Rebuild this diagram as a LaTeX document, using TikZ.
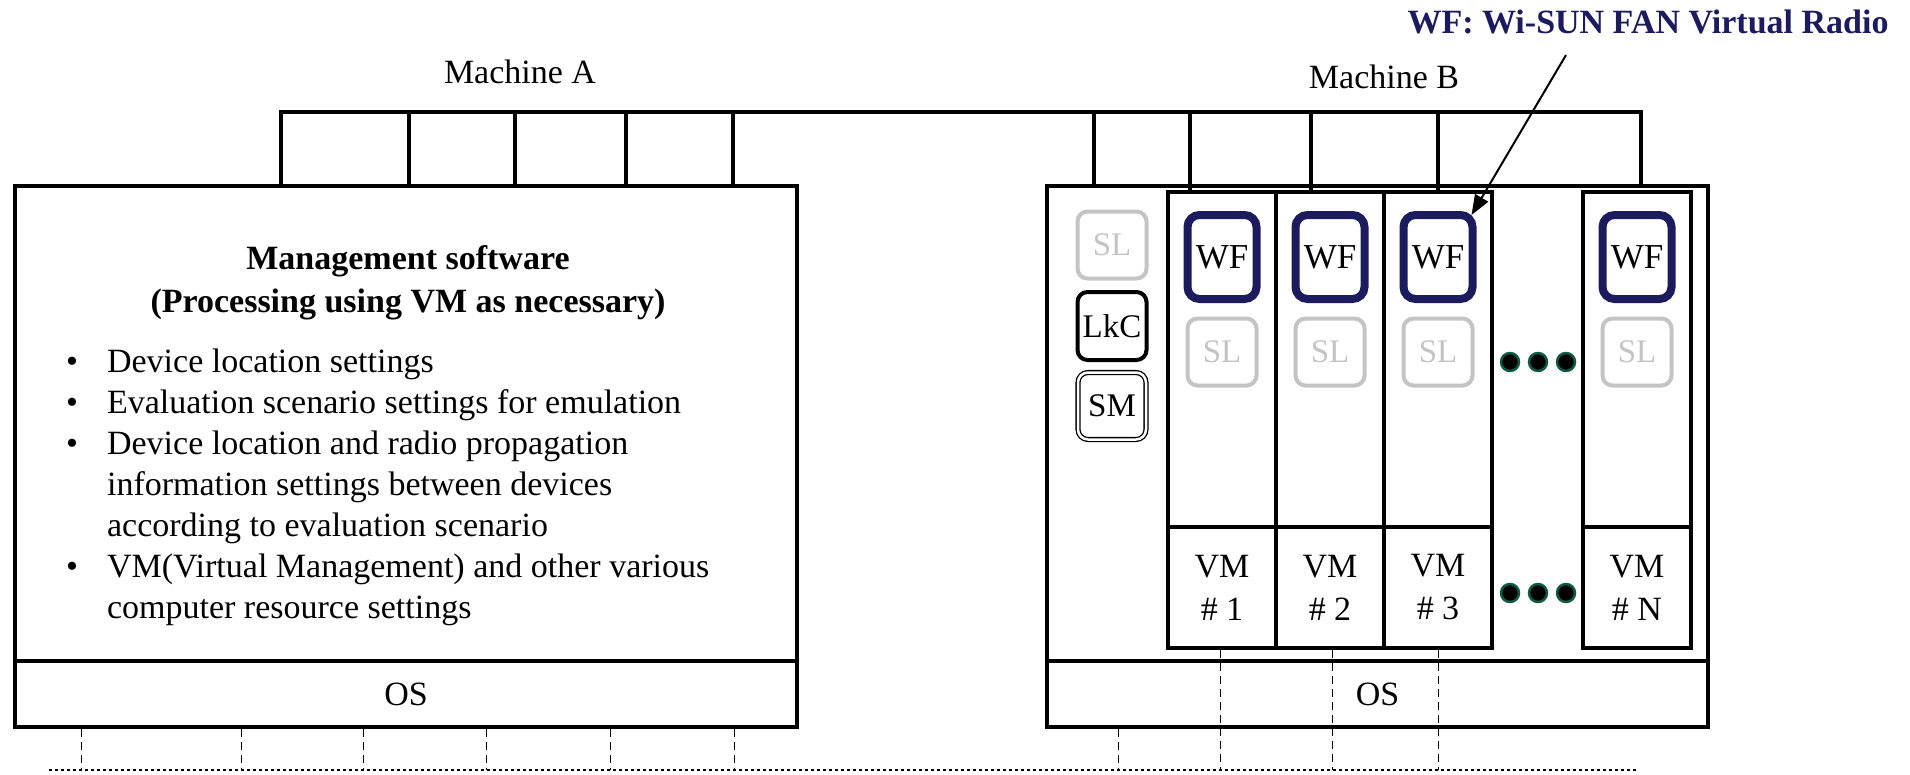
\documentclass[tikz,border=0pt]{standalone}
\usepackage{fontspec}
\setmainfont{Liberation Serif}
\usetikzlibrary{arrows.meta}
\definecolor{WFnavy}{HTML}{1B1B5E}
\definecolor{SLgray}{HTML}{C4C4C4}
\definecolor{DOTgreen}{HTML}{0F5A46}
\newcommand{\mainsize}{\fontsize{34}{41}\selectfont}
\newcommand{\titlesize}{\fontsize{34}{43}\selectfont\bfseries}
\newcommand{\boxsize}{\fontsize{33}{38}\selectfont}
\tikzset{
  hostbox/.style={draw, minimum width=#1, minimum height=541pt},
  vmcol/.style={draw, line width=4pt, minimum width=108pt, align=center},
  wfbox/.style={draw=WFnavy, line width=8pt, rounded corners=12pt, minimum width=69pt, minimum height=84pt, font=\fontsize{35}{40}\selectfont},
  slbox/.style={draw=SLgray, text=SLgray, line width=4pt, rounded corners=10pt, minimum width=69pt, minimum height=67pt, font=\boxsize},
  ctlbox/.style={draw, line width=4pt, rounded corners=10pt, minimum width=69pt, minimum height=68pt, font=\boxsize},
  busline/.style={line width=4pt},
  lanlink/.style={line width=1pt, dash pattern=on 8pt off 5pt},
  lanline/.style={line width=1.2pt, dash pattern=on 3pt off 3pt},
  vmdot/.style={circle, fill=black, draw=DOTgreen, line width=2.5pt, minimum size=18pt}
}

\begin{document}
\begin{tikzpicture}[x=1pt, y=-1pt, font=\mainsize, every node/.append style={inner sep=0pt}]
  \useasboundingbox (0,0) rectangle (1910,774);

  % Machine A
  \node[hostbox=782pt, line width=4pt] (machA) at (406,456.5) {};
  \node[hostbox=782pt, line width=4pt, minimum height=66pt] (osA) at (406,694) {OS};
  \node (labA) at (520,72) {Machine A};
  \node[align=center, font=\titlesize] (mgmt) at (408,283) {Management software\\(Processing using VM as necessary)};
  \node[anchor=north west] (tasks) at (66,344) {%
    \begin{tabular}{@{}c@{\hspace{29pt}}l@{}}
      \textbullet & Device location settings\\
      \textbullet & Evaluation scenario settings for emulation\\
      \textbullet & Device location and radio propagation\\
                  & information settings between devices\\
                  & according to evaluation scenario\\
      \textbullet & VM(Virtual Management) and other various\\
                  & computer resource settings
    \end{tabular}};

  % Machine B
  \node[hostbox=661pt, line width=3.5pt] (machB) at (1377.5,456.5) {};
  \node[hostbox=661pt, line width=3.5pt, minimum height=66pt] (osB) at (1377.5,694) {OS};
  \node (labB) at (1384,77) {Machine B};
  \node[slbox] (sl0) at (1112,245) {SL};
  \node[ctlbox] (lkc) at (1112,326) {LkC};
  \node[ctlbox, line width=1.3pt, double, double distance=2.5pt, minimum width=68pt, minimum height=67pt] (sm) at (1112,406) {SM};

  % virtual machines
  \foreach \i/\x/\lab in {1/1222/1, 2/1330/2, 3/1438/3, 4/1637/N} {
    \node[vmcol, minimum height=335pt] (vmtop\i) at (\x,359.5) {};
    \node[vmcol, minimum height=121pt, font=\fontsize{34}{43}\selectfont] (vm\i) at (\x,587.5) {VM\\\# \lab};
    \node[wfbox] (wf\i) at (\x,257) {WF};
    \node[slbox] (sl\i) at (\x,352) {SL};
  }
  \foreach \y/\n in {362/a, 593/b}
    \foreach \x/\k in {1510/1, 1538/2, 1566/3}
      \node[vmdot] (dot\n\k) at (\x,\y) {};

  % network bus on top
  \coordinate (busW) at (281,112);
  \coordinate (busE) at (1641,112);
  \draw[busline] (busW |- machA.north) -- (busW) -- (busE) -- (busE |- machB.north);
  \foreach \x in {409,515,626,733}
    \draw[busline] (\x,0 |- busW) -- (\x,0 |- machA.north);
  \draw[busline] (1094,0 |- busW) -- (1094,0 |- machB.north);
  \foreach \x/\i in {1190/1, 1311/2, 1438/3}
    \draw[busline] (\x,0 |- busW) -- (\x,0 |- vmtop\i.north);

  % dashed links below
  \coordinate (lanW) at (49,770);
  \coordinate (lanE) at (1638,770);
  \draw[lanline] (lanW) -- (lanE);
  \foreach \x in {81,241,363,486,610,734}
    \draw[lanlink] (\x,0 |- machA.south) -- (\x,0 |- lanW);
  \draw[lanlink] (1118,0 |- machB.south) -- (1118,0 |- lanW);
  \foreach \x/\i in {1220/1, 1332/2, 1438/3}
    \draw[lanlink] (\x,0 |- vm\i.south) -- (\x,0 |- lanW);

  % legend for WF
  \node[font=\mainsize\bfseries, text=WFnavy] (wflabel) at (1648,22) {WF: Wi-SUN FAN Virtual Radio};
  \coordinate (wftail) at (1566,55);
  \draw[line width=2pt, -{Triangle[length=20pt,width=15pt]}] (wftail) -- ([xshift=-5pt,yshift=-4pt]wf3.north east);
\end{tikzpicture}
\end{document}
